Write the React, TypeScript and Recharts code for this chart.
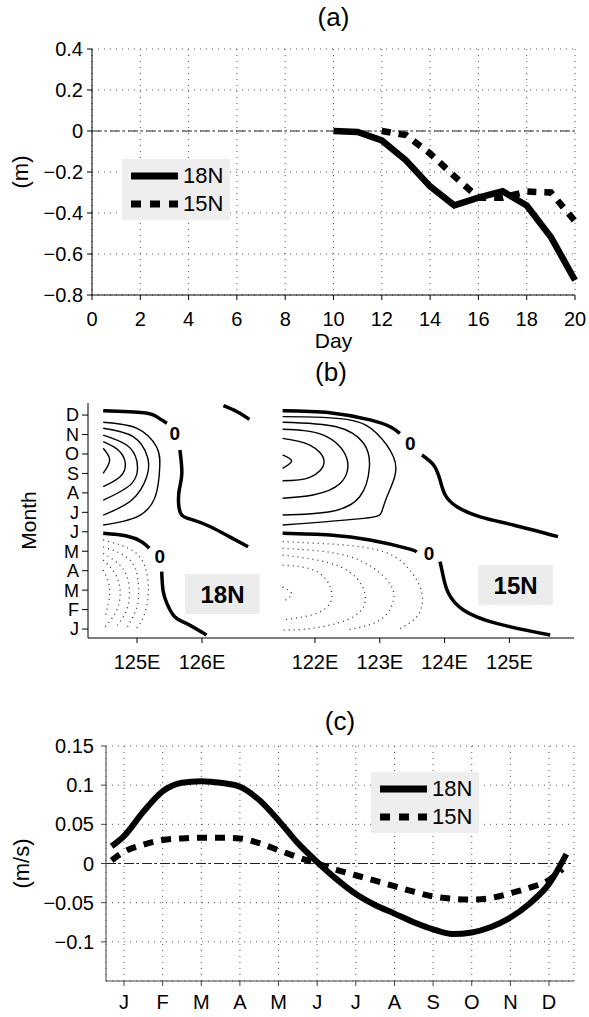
import {
  LineChart,
  Line,
  XAxis,
  YAxis,
  CartesianGrid,
  ReferenceLine,
  ReferenceDot,
  ReferenceArea,
  Legend,
} from 'recharts'

const font = '"Liberation Sans", Arial, Helvetica, sans-serif'

// (a) sea level anomaly after the storm, metres
const days18 = [10, 11, 12, 13, 14, 15, 16, 17, 18, 19, 20]
const sla18 = [0, -0.005, -0.046, -0.143, -0.27, -0.363, -0.325, -0.294, -0.363, -0.517, -0.728]
const days15 = [12, 13, 14, 15, 16, 17, 18, 19, 20]
const sla15 = [0, -0.02, -0.11, -0.22, -0.325, -0.325, -0.295, -0.3, -0.44]
const dayTicks = [0, 2, 4, 6, 8, 10, 12, 14, 16, 18, 20]
const slaTicks = [-0.8, -0.6, -0.4, -0.2, 0, 0.2, 0.4]

// (b) contours, [lon, month] pairs; zero lines are split where the "0" sits
const w18Zero = [
  [[124.48, 12.22], [125.1, 12.12], [125.3, 11.92], [125.46, 11.58]],
  [[125.66, 10.2], [125.69, 9.0], [125.65, 8.15], [125.64, 7.46], [125.69, 6.86], [125.87, 6.6], [126.13, 6.26], [126.42, 5.75], [126.71, 5.23]],
  [[126.33, 12.48], [126.54, 12.17], [126.73, 11.78]],
  [[124.48, 5.92], [124.84, 5.78], [125.07, 5.49], [125.19, 5.15]],
  [[125.38, 3.95], [125.4, 3.0], [125.46, 2.32], [125.58, 1.63], [125.76, 1.29], [126.07, 0.69]],
]
const w18Pos = [
  [[124.48, 10.29], [124.58, 9.69], [124.48, 9.01]],
  [[124.48, 10.63], [124.71, 10.2], [124.82, 9.52], [124.74, 8.83], [124.48, 8.32]],
  [[124.48, 10.97], [124.84, 10.46], [125.0, 9.6], [124.92, 8.49], [124.48, 7.63]],
  [[124.48, 11.32], [124.94, 10.89], [125.16, 9.86], [125.15, 8.83], [124.92, 7.63], [124.48, 6.86]],
  [[124.48, 11.63], [125.0, 11.32], [125.3, 10.37], [125.35, 9.34], [125.28, 7.8], [125.0, 6.77], [124.48, 6.35]],
]
const w18Neg = [
  [[124.48, 4.03], [124.58, 3.0], [124.51, 1.63]],
  [[124.48, 4.55], [124.66, 3.86], [124.74, 3.0], [124.69, 1.98], [124.51, 1.12]],
  [[124.48, 4.89], [124.76, 4.2], [124.88, 3.17], [124.84, 1.98], [124.66, 1.04]],
  [[124.48, 5.23], [124.89, 4.55], [125.02, 3.35], [125.0, 2.15], [124.84, 1.04]],
  [[124.48, 5.58], [124.99, 4.89], [125.16, 3.69], [125.17, 2.66], [125.1, 1.63], [124.97, 0.95]],
]
const w18ZeroTags = [[125.58, 11.06], [125.35, 4.74]]

const e15Zero = [
  [[121.5, 12.22], [122.23, 12.12], [122.85, 11.75], [123.16, 11.4], [123.31, 11.06]],
  [[123.65, 9.95], [123.83, 9.43], [123.93, 8.66], [124.01, 7.89], [124.19, 7.29], [124.55, 6.77], [125.06, 6.35], [125.75, 5.75]],
  [[121.5, 5.92], [122.23, 5.83], [122.85, 5.58], [123.42, 5.15], [123.57, 4.97]],
  [[123.93, 4.46], [123.98, 3.69], [124.06, 2.84], [124.29, 1.98], [124.8, 1.29], [125.63, 0.69]],
]
const e15Pos = [
  [[121.5, 9.95], [121.64, 9.64], [121.5, 9.26]],
  [[121.5, 10.8], [121.92, 10.46], [122.14, 9.6], [121.92, 8.8], [121.5, 8.62]],
  [[121.5, 11.27], [122.13, 10.97], [122.49, 9.78], [122.39, 8.49], [121.97, 7.89], [121.5, 7.72]],
  [[121.5, 11.63], [122.33, 11.4], [122.75, 10.55], [122.84, 9.34], [122.69, 7.8], [122.23, 7.03], [121.5, 6.86]],
  [[121.5, 11.92], [122.49, 11.78], [122.95, 11.06], [123.21, 9.86], [123.23, 8.83], [123.11, 7.8], [123.03, 7.03], [122.75, 6.69], [121.5, 6.35]],
]
const e15Neg = [
  [[121.5, 3.17], [121.64, 2.8], [121.5, 2.4]],
  [[121.5, 4.29], [122.03, 3.95], [122.26, 2.84], [122.08, 1.89], [121.5, 1.46]],
  [[121.5, 4.8], [122.39, 4.2], [122.77, 2.84], [122.59, 1.63], [121.97, 1.04], [121.5, 0.95]],
  [[121.5, 5.15], [122.54, 4.72], [123.11, 3.52], [123.21, 2.49], [123.0, 1.46], [122.49, 0.95]],
  [[121.5, 5.49], [122.85, 5.15], [123.42, 4.2], [123.65, 2.84], [123.57, 1.63], [123.26, 0.95]],
]
const e15ZeroTags = [[123.47, 10.55], [123.76, 4.89]]

const monthTicks = [1, 2, 3, 4, 5, 6, 7, 8, 9, 10, 11, 12]
const monthLetters = ['J', 'F', 'M', 'A', 'M', 'J', 'J', 'A', 'S', 'O', 'N', 'D']

// (c) velocity, m/s
const months18 = [0.68, 1, 1.5, 2, 2.5, 3, 3.5, 4, 4.5, 5, 5.5, 6, 6.5, 7, 7.5, 8, 8.5, 9, 9.5, 10, 10.5, 11, 11.5, 12, 12.45]
const vel18 = [0.022, 0.035, 0.066, 0.092, 0.103, 0.105, 0.103, 0.098, 0.081, 0.055, 0.026, 0.002, -0.02, -0.039, -0.053, -0.064, -0.075, -0.084, -0.09, -0.088, -0.081, -0.069, -0.051, -0.026, 0.012]
const months15 = [0.68, 1, 1.5, 2, 2.5, 3, 3.5, 4, 4.5, 5, 5.5, 6, 6.5, 7, 7.5, 8, 8.5, 9, 9.5, 10, 10.5, 11, 11.5, 12, 12.35]
const vel15 = [0.004, 0.015, 0.024, 0.03, 0.032, 0.033, 0.033, 0.032, 0.026, 0.017, 0.008, 0, -0.008, -0.015, -0.022, -0.029, -0.036, -0.042, -0.045, -0.046, -0.044, -0.038, -0.031, -0.021, -0.007]
const velTicks = [-0.1, -0.05, 0, 0.05, 0.1, 0.15]

const series = [
  { name: '18N', dash: undefined as string | undefined },
  { name: '15N', dash: '10 9' },
]

const signed = (v: number) => (v < 0 ? '\u2212' + String(Math.abs(v)) : String(v))
const tickText = { fill: '#000', fontSize: 20, fontFamily: font }
// month letters sit closer together than the numeric ticks
const monthText = { fill: '#000', fontSize: 18, fontFamily: font }
const gridStyle = { stroke: '#555', strokeDasharray: '1 5' }

const toRows = (pts: number[][]) => pts.map(([lon, m]) => ({ lon, m }))

function KeyBox() {
  return (
    <div style={{ background: '#eeeeee', width: 108, height: 61, paddingTop: 3, boxSizing: 'border-box' }}>
      {series.map((s) => (
        <div key={s.name} style={{ display: 'flex', alignItems: 'center', height: 28 }}>
          <svg width={47} height={10} style={{ marginLeft: 9, display: 'block' }}>
            <line x1={0} y1={5} x2={47} y2={5} stroke="#000" strokeWidth={7} strokeDasharray={s.dash} />
          </svg>
          <span style={{ marginLeft: 5, fontSize: 22, fontFamily: font, lineHeight: '28px', color: '#000' }}>{s.name}</span>
        </div>
      ))}
    </div>
  )
}

function Title({ text, x, y }: { text: string; x: number; y: number }) {
  return (
    <div style={{ position: 'absolute', left: x - 50, top: y, width: 100, textAlign: 'center', fontSize: 26, lineHeight: '26px', fontFamily: font }}>
      {text}
    </div>
  )
}

function ContourPanel(props: {
  left: number
  width: number
  right: number
  domain: [number, number]
  ticks: number[]
  zero: number[][][]
  pos: number[][][]
  neg: number[][][]
  tags: number[][]
  box: { name: string; x1: number; x2: number; y1: number; y2: number }
  showMonth: boolean
}) {
  const { left, width, right, domain, ticks, zero, pos, neg, tags, box, showMonth } = props
  return (
    <div style={{ position: 'absolute', left, top: 370 }}>
      <LineChart width={width} height={320} margin={{ top: 33, right, bottom: 22, left: 0 }}>
        <XAxis
          type="number"
          dataKey="lon"
          domain={domain}
          ticks={ticks}
          interval={0}
          allowDataOverflow
          height={30}
          stroke="#000"
          tickSize={5}
          tickMargin={12}
          tick={tickText}
          tickFormatter={(v: number) => `${v}E`}
        />
        <YAxis
          type="number"
          domain={[0.54, 12.62]}
          ticks={monthTicks}
          interval={0}
          allowDataOverflow
          hide={!showMonth}
          width={showMonth ? 88 : 0}
          stroke="#000"
          tickSize={6}
          tickMargin={3}
          tick={monthText}
          tickFormatter={(v: number) => monthLetters[v - 1]}
          label={{ value: 'Month', angle: -90, position: 'insideLeft', offset: 29, fontSize: 21, fontFamily: font, fill: '#000', style: { textAnchor: 'middle' } }}
        />
        <ReferenceArea
          x1={box.x1}
          x2={box.x2}
          y1={box.y1}
          y2={box.y2}
          fill="#ececec"
          fillOpacity={1}
          stroke="none"
          label={{ value: box.name, position: 'center', fontSize: 24, fontWeight: 700, fontFamily: font, fill: '#000' }}
        />
        {neg.map((c, i) => (
          <Line key={`n${i}`} data={toRows(c)} dataKey="m" type="natural" stroke="#333" strokeWidth={1.3} strokeDasharray="1 4" dot={false} activeDot={false} isAnimationActive={false} />
        ))}
        {pos.map((c, i) => (
          <Line key={`p${i}`} data={toRows(c)} dataKey="m" type="natural" stroke="#000" strokeWidth={1.4} dot={false} activeDot={false} isAnimationActive={false} />
        ))}
        {zero.map((c, i) => (
          <Line key={`z${i}`} data={toRows(c)} dataKey="m" type="natural" stroke="#000" strokeWidth={3.5} dot={false} activeDot={false} isAnimationActive={false} />
        ))}
        {tags.map(([lon, m], i) => (
          <ReferenceDot
            key={`t${i}`}
            x={lon}
            y={m}
            r={0}
            fill="none"
            stroke="none"
            label={{ value: '0', position: 'center', fontSize: 19, fontWeight: 700, fontFamily: font, fill: '#000' }}
          />
        ))}
      </LineChart>
    </div>
  )
}

export default function App() {
  const rowsA18 = days18.map((day, i) => ({ day, v: sla18[i] }))
  const rowsA15 = days15.map((day, i) => ({ day, v: sla15[i] }))
  const rowsC18 = months18.map((mon, i) => ({ mon, v: vel18[i] }))
  const rowsC15 = months15.map((mon, i) => ({ mon, v: vel15[i] }))

  return (
    <div style={{ position: 'absolute', left: 0, top: 0, width: 589, height: 1017, background: '#fff', fontFamily: font }}>
      {/* (a) */}
      <Title text="(a)" x={333.5} y={4} />
      <div style={{ position: 'absolute', left: 0, top: 0 }}>
        <LineChart width={589} height={360} margin={{ top: 49, right: 14, bottom: 35, left: 0 }}>
          <CartesianGrid {...gridStyle} />
          <XAxis
            type="number"
            dataKey="day"
            domain={[0, 20]}
            ticks={dayTicks}
            interval={0}
            height={30}
            stroke="#000"
            tickSize={5}
            tickMargin={12}
            tick={tickText}
            label={{ value: 'Day', position: 'bottom', offset: 8, fontSize: 21, fontFamily: font, fill: '#000' }}
          />
          <YAxis
            type="number"
            domain={[-0.8, 0.4]}
            ticks={slaTicks}
            interval={0}
            width={92}
            stroke="#000"
            tickSize={5}
            tickMargin={4}
            tick={tickText}
            tickFormatter={signed}
            label={{ value: '(m)', angle: -90, position: 'insideLeft', offset: 20, fontSize: 22, fontFamily: font, fill: '#000', style: { textAnchor: 'middle' } }}
          />
          <ReferenceLine y={0} stroke="#222" strokeDasharray="10 3 2 3" />
          <Line data={rowsA18} dataKey="v" name="18N" type="linear" stroke="#000" strokeWidth={6.5} dot={false} activeDot={false} isAnimationActive={false} />
          <Line data={rowsA15} dataKey="v" name="15N" type="linear" stroke="#000" strokeWidth={6.5} strokeDasharray="9 8" dot={false} activeDot={false} isAnimationActive={false} />
          <Legend layout="vertical" align="center" verticalAlign="middle" wrapperStyle={{ left: 122, top: 159, width: 108, height: 61 }} content={() => <KeyBox />} />
        </LineChart>
      </div>

      {/* (b) */}
      <Title text="(b)" x={331} y={359} />
      <ContourPanel
        left={0}
        width={266}
        right={0}
        domain={[124.246, 126.985]}
        ticks={[125, 126]}
        zero={w18Zero}
        pos={w18Pos}
        neg={w18Neg}
        tags={w18ZeroTags}
        box={{ name: '18N', x1: 125.74, x2: 126.89, y1: 1.77, y2: 3.83 }}
        showMonth
      />
      <ContourPanel
        left={266}
        width={323}
        right={15}
        domain={[121.244, 125.997]}
        ticks={[122, 123, 124, 125]}
        zero={e15Zero}
        pos={e15Pos}
        neg={e15Neg}
        tags={e15ZeroTags}
        box={{ name: '15N', x1: 124.52, x2: 125.67, y1: 2.23, y2: 4.29 }}
        showMonth={false}
      />

      {/* (c) */}
      <Title text="(c)" x={340} y={708} />
      <div style={{ position: 'absolute', left: 0, top: 690 }}>
        <LineChart width={589} height={327} margin={{ top: 56, right: 15, bottom: 6, left: 0 }}>
          <CartesianGrid {...gridStyle} />
          <XAxis
            type="number"
            dataKey="mon"
            domain={[0.534, 12.647]}
            ticks={monthTicks}
            interval={0}
            allowDataOverflow
            height={30}
            stroke="#444"
            tickSize={5}
            tickMargin={9}
            tick={tickText}
            tickFormatter={(v: number) => monthLetters[v - 1]}
          />
          <YAxis
            type="number"
            domain={[-0.15, 0.15]}
            ticks={velTicks}
            interval={0}
            width={106}
            stroke="#444"
            tickSize={5}
            tickMargin={7}
            tick={tickText}
            tickFormatter={signed}
            label={{ value: '(m/s)', angle: -90, position: 'insideLeft', offset: 21, fontSize: 22, fontFamily: font, fill: '#000', style: { textAnchor: 'middle' } }}
          />
          <ReferenceLine y={0} stroke="#222" strokeDasharray="10 3 2 3" />
          <Line data={rowsC18} dataKey="v" name="18N" type="monotone" stroke="#000" strokeWidth={6} dot={false} activeDot={false} isAnimationActive={false} />
          <Line data={rowsC15} dataKey="v" name="15N" type="monotone" stroke="#000" strokeWidth={6} strokeDasharray="10 8" dot={false} activeDot={false} isAnimationActive={false} />
          <Legend layout="vertical" align="center" verticalAlign="middle" wrapperStyle={{ left: 371, top: 82, width: 108, height: 61 }} content={() => <KeyBox />} />
        </LineChart>
      </div>
    </div>
  )
}
